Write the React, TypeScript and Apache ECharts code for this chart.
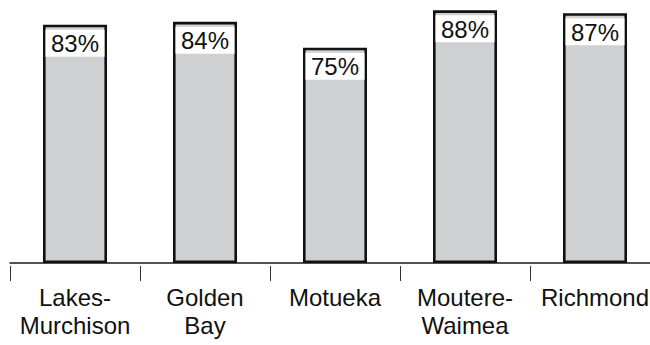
import React, { useEffect, useRef } from "react";
import * as echarts from "echarts";

const categories = ["Lakes-\nMurchison", "Golden\nBay", "Motueka", "Moutere-\nWaimea", "Richmond"];
const values = [83, 84, 75, 88, 87];

export default function App() {
  const ref = useRef<HTMLDivElement>(null);
  useEffect(() => {
    if (!ref.current) return;
    const chart = echarts.init(ref.current, undefined, { renderer: "svg" });
    const font = "'Liberation Sans', Arial, Helvetica, sans-serif";
    chart.setOption({
      animation: false,
      grid: { left: 10, right: 10, top: 0, bottom: 82 },
      xAxis: [
        {
          type: "category",
          data: categories,
          position: "bottom",
          axisLine: { show: true, lineStyle: { color: "#1a1a1a", width: 1.5 } },
          axisTick: { show: false },
          axisLabel: { show: false },
        },
        {
          type: "category",
          data: categories,
          position: "bottom",
          offset: 3,
          axisLine: { show: false },
          axisTick: { show: true, length: 15, lineStyle: { color: "#333", width: 1 } },
          axisLabel: {
            show: true,
            margin: 18,
            color: "#111",
            fontSize: 24,
            lineHeight: 27.5,
            fontFamily: font,
            interval: 0,
          },
        },
      ],
      yAxis: {
        type: "value",
        min: 0,
        max: 91.6,
        show: false,
        splitLine: { show: false },
      },
      series: [
        {
          type: "bar",
          xAxisIndex: 0,
          data: values,
          barWidth: 64,
          itemStyle: { color: "#cfd0d2", borderColor: "#111", borderWidth: 2.6 },
          label: {
            show: true,
            position: "insideTop",
            distance: 5,
            formatter: "{c}%",
            color: "#111",
            fontSize: 24,
            lineHeight: 24,
            fontFamily: font,
            backgroundColor: "#fff",
            width: 59,
            align: "center",
            padding: [2, 0, 1, 0],
          },
        },
      ],
    });
    return () => chart.dispose();
  }, []);
  return (
    <div style={{ width: 650, height: 345, position: "absolute", left: 0, top: 0, overflow: "hidden" }}>
      <div ref={ref} style={{ width: 670, height: 345 }} />
    </div>
  );
}
